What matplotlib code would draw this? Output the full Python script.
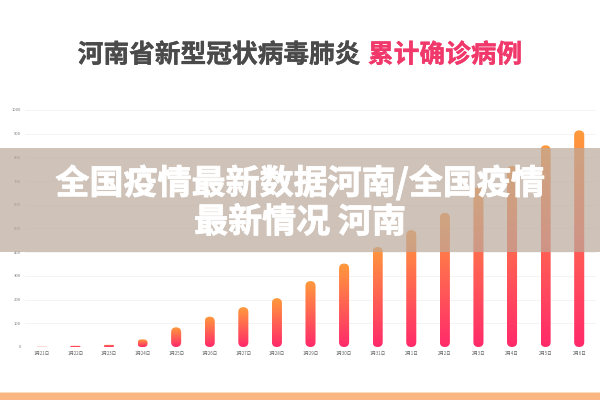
import numpy as np
import matplotlib
matplotlib.use("Agg")
import matplotlib.pyplot as plt
import matplotlib.patheffects as pe
from matplotlib.patches import FancyBboxPatch, Rectangle
from matplotlib.colors import LinearSegmentedColormap

plt.rcParams['font.family'] = ['Noto Sans CJK SC', 'DejaVu Sans']

# data
dates = ['1月21日', '1月22日', '1月23日', '1月24日', '1月25日', '1月26日', '1月27日',
         '1月28日', '1月29日', '1月30日', '1月31日', '2月1日', '2月2日', '2月3日',
         '2月4日', '2月5日', '2月6日']
confirmed = [1, 5, 9, 32, 83, 128, 168, 206, 278, 352, 422, 493, 566, 675, 764, 851, 914]
yticks = [0, 100, 200, 300, 400, 500, 600, 700, 800, 900, 1000]

title_dark = '河南省新型冠状病毒肺炎'
title_red = '累计确诊病例'
banner_lines = ['全国疫情最新数据河南/全国疫情', '最新情况 河南']

W, H = 600, 400
fig = plt.figure(figsize=(6, 4), dpi=100)
fig.patch.set_facecolor('white')

# axes placed in pixel terms: x 25..596, y 110..347 (from top)
ax = fig.add_axes([25 / W, 53 / H, 571 / W, 237 / H])
for s in ax.spines.values():
    s.set_visible(False)
ax.set_yticks(yticks)
ax.set_yticklabels([str(v) for v in yticks], fontsize=3, color='#777777')
ax.set_xticks(range(len(dates)))
ax.set_xticklabels(dates, fontsize=3.2, color='#666666')
ax.tick_params(length=0, pad=3)
ax.grid(axis='y', color='#f2f2f2', linewidth=0.6)
ax.axhline(0, color='#e6e6e6', linewidth=0.6, zorder=1)
ax.set_axisbelow(True)

cmap = LinearSegmentedColormap.from_list('bar', ['#FF2A6A', '#FF9A3C'])
grad = np.linspace(0, 1, 128).reshape(-1, 1)

bw = 0.3  # bar width in x units (~10 px)
px_x = 571 / len(dates)       # px per x unit
px_y = 237 / 1000             # px per y unit
aspect = (1 / px_y) / (1 / px_x)

for i, v in enumerate(confirmed):
    r = min(bw / 2, v / 2 / aspect)
    patch = FancyBboxPatch((i - bw / 2, 0), bw, v,
                           boxstyle='round,pad=0,rounding_size=%f' % r,
                           mutation_aspect=aspect, facecolor='none',
                           edgecolor='none', zorder=2)
    ax.add_patch(patch)
    im = ax.imshow(grad, cmap=cmap, origin='lower', aspect='auto',
                   extent=[i - bw / 2, i + bw / 2, 0, v], zorder=2)
    im.set_clip_path(patch)

ax.set_xlim(-0.5, len(dates) - 0.5)
ax.set_ylim(0, 1000)

# title, two colours with a small gap between them
fig.text(361 / W, 1 - 55 / H, title_dark, ha='right', va='center',
         fontsize=18.5, fontweight='bold', color='#4a4a4a',
         path_effects=[pe.withStroke(linewidth=0.25, foreground='#4a4a4a')])
fig.text(368 / W, 1 - 55 / H, title_red, ha='left', va='center',
         fontsize=18.5, fontweight='bold', color='#F0386B',
         path_effects=[pe.withStroke(linewidth=0.25, foreground='#F0386B')])

# translucent banner on top
band = Rectangle((0, 1 - 252 / H), 1, 104 / H, transform=fig.transFigure,
                 facecolor=(187 / 255, 170 / 255, 156 / 255), alpha=0.7,
                 edgecolor='none', zorder=5)
fig.add_artist(band)
for txt, y in zip(banner_lines, [183, 222]):
    fig.text(0.5, 1 - y / H, txt, ha='center', va='center',
             fontsize=24.5, fontweight='bold', color='white', zorder=6,
             path_effects=[pe.withStroke(linewidth=0.6, foreground='white')])

# orange strip at the bottom
fig.add_artist(Rectangle((0, 0), 1, 7 / H, transform=fig.transFigure,
                         facecolor='#F9B683', edgecolor='none', zorder=5))
fig.add_artist(Rectangle((0, 7 / H), 1, 1.2 / H, transform=fig.transFigure,
                         facecolor='#FCDCC0', edgecolor='none', zorder=5))

fig.savefig('out.png', dpi=100)
